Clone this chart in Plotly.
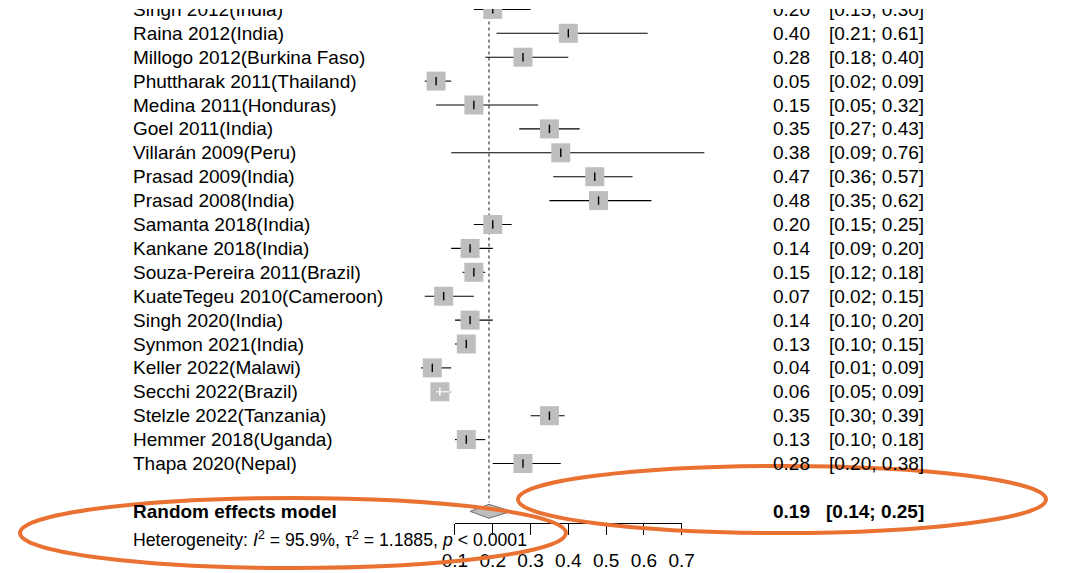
import plotly.graph_objects as go

# ---------------- data ----------------
studies = ["Singh 2012(India)", "Raina 2012(India)", "Millogo 2012(Burkina Faso)",
           "Phuttharak 2011(Thailand)", "Medina 2011(Honduras)", "Goel 2011(India)",
           "Villarán 2009(Peru)", "Prasad 2009(India)", "Prasad 2008(India)",
           "Samanta 2018(India)", "Kankane 2018(India)", "Souza-Pereira 2011(Brazil)",
           "KuateTegeu 2010(Cameroon)", "Singh 2020(India)", "Synmon 2021(India)",
           "Keller 2022(Malawi)", "Secchi 2022(Brazil)", "Stelzle 2022(Tanzania)",
           "Hemmer 2018(Uganda)", "Thapa 2020(Nepal)"]
est = [0.20, 0.40, 0.28, 0.05, 0.15, 0.35, 0.38, 0.47, 0.48, 0.20,
       0.14, 0.15, 0.07, 0.14, 0.13, 0.04, 0.06, 0.35, 0.13, 0.28]
lower = [0.15, 0.21, 0.18, 0.02, 0.05, 0.27, 0.09, 0.36, 0.35, 0.15,
         0.09, 0.12, 0.02, 0.10, 0.10, 0.01, 0.05, 0.30, 0.10, 0.20]
upper = [0.30, 0.61, 0.40, 0.09, 0.32, 0.43, 0.76, 0.57, 0.62, 0.25,
         0.20, 0.18, 0.15, 0.20, 0.15, 0.09, 0.09, 0.39, 0.18, 0.38]
pooled_label = "Random effects model"
pooled_est, pooled_lo, pooled_hi = 0.19, 0.14, 0.25
heterogeneity = "Heterogeneity: <i>I</i><sup>2</sup> = 95.9%, τ<sup>2</sup> = 1.1885, <i>p</i> &lt; 0.0001"
tick_vals = [0.1, 0.2, 0.3, 0.4, 0.5, 0.6, 0.7]
tick_text = ["0.1", "0.2", "0.3", "0.4", "0.5", "0.6", "0.7"]
ci_inside_box = ["Secchi 2022(Brazil)"]   # CI drawn in white inside the square

# ---------------- layout geometry ----------------
W, H = 1081, 573
FONT = "Liberation Sans, Arial, sans-serif"
px_zero, px_per_unit = 417.2, 377.8          # x pixel of value 0, pixels per unit
row0_px, row_px = 9.4, 23.9                 # y pixel of row 0, pixels per row
x_range = [-px_zero / px_per_unit, (W - px_zero) / px_per_unit]
y_range = [(H - row0_px) / row_px, -row0_px / row_px]
n = len(studies)
rows = list(range(n))
pooled_row = n + 1
het_row = n + 2.15

def px(v):
    return v / W

def py(v):
    return 1 - v / H

fig = go.Figure()

# reference (dotted) line at pooled estimate
fig.add_trace(go.Scatter(x=[pooled_est, pooled_est], y=[-0.5, pooled_row - 0.38],
                         mode="lines", line=dict(color="#555555", width=1.4, dash="dot"),
                         hoverinfo="skip", showlegend=False))

# CI lines (below squares)
for i in rows:
    fig.add_trace(go.Scatter(x=[lower[i], upper[i]], y=[i, i], mode="lines",
                             line=dict(color="black", width=1.1),
                             hoverinfo="skip", showlegend=False))

# squares
fig.add_trace(go.Scatter(x=est, y=rows, mode="markers",
                         marker=dict(symbol="square", size=19, color="#bebebe",
                                     line=dict(width=0)),
                         hoverinfo="skip", showlegend=False))

# CI lines fully inside their square: white on top
for i in rows:
    if studies[i] in ci_inside_box:
        fig.add_trace(go.Scatter(x=[lower[i], upper[i]], y=[i, i], mode="lines",
                                 line=dict(color="white", width=1.1),
                                 hoverinfo="skip", showlegend=False))

# point-estimate ticks
tick_cols = ["white" if s in ci_inside_box else "black" for s in studies]
fig.add_trace(go.Scatter(x=est, y=rows, mode="markers",
                         marker=dict(symbol="line-ns", size=6,
                                     line=dict(width=1.4, color=tick_cols)),
                         hoverinfo="skip", showlegend=False))

# diamond
dh = 0.29
fig.add_trace(go.Scatter(x=[pooled_lo, pooled_est, pooled_hi, pooled_est, pooled_lo],
                         y=[pooled_row, pooled_row - dh, pooled_row, pooled_row + dh, pooled_row],
                         mode="lines", fill="toself", fillcolor="#bebebe",
                         line=dict(color="#6f6f6f", width=1),
                         hoverinfo="skip", showlegend=False))

# invisible trace to carry the visible axis (x2)
fig.add_trace(go.Scatter(x=tick_vals, y=[pooled_row] * len(tick_vals), xaxis="x2", yaxis="y",
                         mode="markers", marker=dict(opacity=0), hoverinfo="skip",
                         showlegend=False))

# ---------------- text ----------------
ann = []
for i in rows:
    ann.append(dict(x=px(131), y=i, xref="paper", yref="y", text=studies[i],
                    xanchor="left", yanchor="middle", showarrow=False,
                    font=dict(family=FONT, size=19, color="black")))
    ann.append(dict(x=px(812), y=i, xref="paper", yref="y", text=f"{est[i]:.2f}",
                    xanchor="right", yanchor="middle", showarrow=False,
                    font=dict(family=FONT, size=19, color="black")))
    ann.append(dict(x=px(926), y=i, xref="paper", yref="y",
                    text=f"[{lower[i]:.2f}; {upper[i]:.2f}]",
                    xanchor="right", yanchor="middle", showarrow=False,
                    font=dict(family=FONT, size=19, color="black")))
ann.append(dict(x=px(131), y=pooled_row, xref="paper", yref="y", text=f"<b>{pooled_label}</b>",
                xanchor="left", yanchor="middle", showarrow=False,
                font=dict(family=FONT, size=19, color="black")))
ann.append(dict(x=px(812), y=pooled_row, xref="paper", yref="y", text=f"<b>{pooled_est:.2f}</b>",
                xanchor="right", yanchor="middle", showarrow=False,
                font=dict(family=FONT, size=19, color="black")))
ann.append(dict(x=px(926), y=pooled_row, xref="paper", yref="y",
                text=f"<b>[{pooled_lo:.2f}; {pooled_hi:.2f}]</b>",
                xanchor="right", yanchor="middle", showarrow=False,
                font=dict(family=FONT, size=19, color="black")))
ann.append(dict(x=px(131), y=het_row, xref="paper", yref="y", text=heterogeneity,
                xanchor="left", yanchor="middle", showarrow=False,
                font=dict(family=FONT, size=17.7, color="black")))
# white band reproducing the cropped top edge of the reference
ann.append(dict(x=0, y=1, xref="paper", yref="paper", text=" ", width=W - 2, height=9,
                xanchor="left", yanchor="top", showarrow=False, bgcolor="white",
                borderpad=0, borderwidth=0))

# ---------------- overlay shapes (orange highlight ellipses) ----------------
orange = "#E97132"
shapes = [
    dict(type="circle", xref="paper", yref="paper", x0=px(20), x1=px(566),
         y0=py(568), y1=py(498), line=dict(color=orange, width=4), layer="above"),
    dict(type="circle", xref="paper", yref="paper", x0=px(518), x1=px(1046),
         y0=py(533), y1=py(466), line=dict(color=orange, width=4), layer="above"),
]

axis_y_px = 523.3
fig.update_layout(
    width=W, height=H,
    margin=dict(l=0, r=0, t=0, b=0, pad=0, autoexpand=False),
    paper_bgcolor="white", plot_bgcolor="rgba(0,0,0,0)",
    xaxis=dict(range=x_range, visible=False, fixedrange=True, automargin=False),
    yaxis=dict(range=y_range, visible=False, fixedrange=True, automargin=False),
    xaxis2=dict(anchor="free", position=py(axis_y_px), side="bottom", automargin=False,
                domain=[px(px_zero + 0.1 * px_per_unit), px(px_zero + 0.7 * px_per_unit)],
                range=[0.1, 0.7], tickvals=tick_vals, ticktext=tick_text,
                showline=True, linecolor="black", linewidth=1, ticks="outside",
                ticklen=11, tickwidth=1, tickcolor="black", showgrid=False, zeroline=False,
                tickfont=dict(family=FONT, size=19, color="black"), ticklabelstandoff=9,
                fixedrange=True),
    annotations=ann, shapes=shapes, showlegend=False,
)

fig.write_html("out.html")
